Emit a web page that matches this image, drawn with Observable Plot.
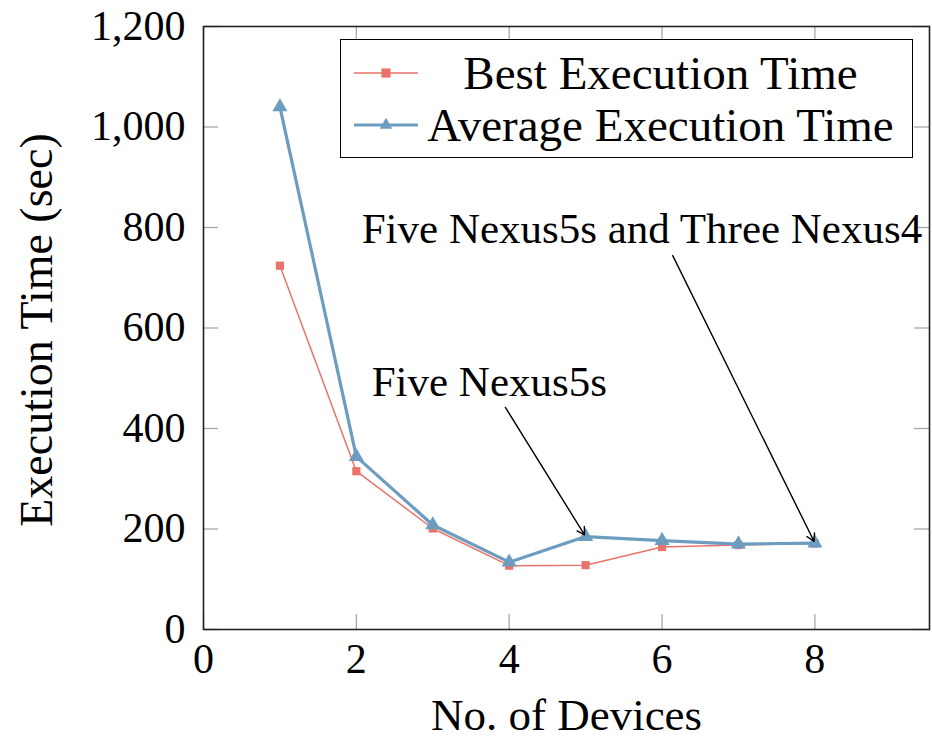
<!DOCTYPE html>
<html><head><meta charset="utf-8">
<script src="https://cdn.jsdelivr.net/npm/d3@7"></script>
<script src="https://cdn.jsdelivr.net/npm/@observablehq/plot@0.6"></script>
<style>
html,body{margin:0;padding:0;background:#fff;overflow:hidden;}
#wrap{position:relative;width:932px;height:740px;overflow:hidden;}
#legend{position:absolute;left:340px;top:39px;width:573px;height:119px;border:1.6px solid #000;box-sizing:border-box;background:#fff;font-family:"Liberation Serif","Times New Roman",serif;font-size:47px;color:#000;}
#legend .row{position:absolute;left:0;right:0;height:50px;}
#legend .sw{position:absolute;left:11px;top:0;}
#legend .lab{position:absolute;left:86px;right:18px;top:0;height:50px;line-height:50px;text-align:center;white-space:nowrap;}
</style></head><body><div id="wrap"></div>
<script>
const devices = [1, 2, 3, 4, 5, 6, 7, 8];
const bestTime = [724, 315, 201, 127, 128, 164, 168, 171];
const avgTime = [1040, 344, 208, 134, 185, 177, 170, 172];
const xTicks = [0, 2, 4, 6, 8];
const yTicks = [0, 200, 400, 600, 800, 1000, 1200];
const seriesNames = ["Best Execution Time", "Average Execution Time"];
const seriesColors = ["#E8736A", "#6C9DC0"];
const annoLabels = ["Five Nexus5s", "Five Nexus5s and Three Nexus4"];
const annoTextX = [2.2, 2.07];
const annoTextY = [493, 796];
const annoFromX = [3.95, 6.14];
const annoFromY = [442, 744];
const annoTargetDevice = [5, 8];

const best = devices.map((d, i) => ({x: d, y: bestTime[i]}));
const avg = devices.map((d, i) => ({x: d, y: avgTime[i]}));
const annos = annoLabels.map((t, i) => {
  const j = devices.indexOf(annoTargetDevice[i]);
  return {text: t, tx: annoTextX[i], ty: annoTextY[i], x1: annoFromX[i], y1: annoFromY[i], x2: devices[j], y2: avgTime[j]};
});

const W = 932, H = 740, mL = 203, mR = 3, mT = 26, mB = 111;
const fw = W - mL - mR, fh = H - mT - mB, tick = 15;
const tickColor = "#a8a8a8";

const chart = Plot.plot({
  width: W, height: H,
  marginLeft: mL, marginRight: mR, marginTop: mT, marginBottom: mB,
  style: {fontFamily: "'Liberation Serif', 'Times New Roman', serif", background: "#fff", color: "#000"},
  x: {domain: [0, 9.5], axis: null},
  y: {domain: [0, 1200], axis: null},
  marks: [
    // inward ticks on four sides
    Plot.tickX(xTicks, {x: d => d, insetTop: fh - tick, stroke: tickColor, strokeWidth: 1.3}),
    Plot.tickX(xTicks, {x: d => d, insetBottom: fh - tick, stroke: tickColor, strokeWidth: 1.3}),
    Plot.tickY(yTicks, {y: d => d, insetRight: fw - tick, stroke: tickColor, strokeWidth: 1.3}),
    Plot.tickY(yTicks, {y: d => d, insetLeft: fw - tick, stroke: tickColor, strokeWidth: 1.3}),
    Plot.axisX({ticks: xTicks, tickSize: 0, tickPadding: 14, fontSize: 42, label: null, tickFormat: d3.format("d")}),
    Plot.axisY({ticks: yTicks, tickSize: 0, tickPadding: 18, fontSize: 42, label: null, tickFormat: d3.format(",")}),
    Plot.text(["Execution Time (sec)"], {frameAnchor: "left", dx: -166, dy: 2, rotate: -90, fontSize: 46, textAnchor: "middle", lineAnchor: "middle"}),
    Plot.text(["No. of Devices"], {frameAnchor: "bottom", dy: 86, fontSize: 45, textAnchor: "middle", lineAnchor: "middle"}),
    // series
    Plot.line(best, {x: "x", y: "y", stroke: seriesColors[0], strokeWidth: 1.5}),
    Plot.dot(best, {x: "x", y: "y", symbol: "square", r: 4.6, fill: seriesColors[0], stroke: "none"}),
    Plot.line(avg, {x: "x", y: "y", stroke: seriesColors[1], strokeWidth: 3.2}),
    Plot.dot(avg, {x: "x", y: "y", symbol: "triangle", r: 5.6, fill: seriesColors[1], stroke: "none"}),
    // annotations
    Plot.arrow(annos, {x1: "x1", y1: "y1", x2: "x2", y2: "y2", stroke: "#000", strokeWidth: 1.4, headLength: 9, insetEnd: 2}),
    Plot.text(annos, {x: "tx", y: "ty", text: "text", fontSize: 43, textAnchor: "start", lineAnchor: "middle"}),
    Plot.frame({stroke: "#222", strokeWidth: 1.6})
  ]
});

const wrap = document.getElementById("wrap");
wrap.appendChild(chart);

// legend
const legend = document.createElement("div");
legend.id = "legend";
const rowTops = [8, 60];
seriesNames.forEach((name, i) => {
  const row = document.createElement("div");
  row.className = "row";
  row.style.top = rowTops[i] + "px";
  const sw = d3.create("svg").attr("class", "sw").attr("width", 70).attr("height", 50);
  sw.append("line").attr("x1", 2).attr("x2", 66).attr("y1", 25).attr("y2", 25)
    .attr("stroke", seriesColors[i]).attr("stroke-width", i === 0 ? 1.5 : 3.2);
  const sym = d3.symbol(i === 0 ? d3.symbolSquare : d3.symbolTriangle, i === 0 ? 84 : 70)();
  sw.append("path").attr("d", sym).attr("transform", "translate(34,25)").attr("fill", seriesColors[i]);
  row.appendChild(sw.node());
  const lab = document.createElement("div");
  lab.className = "lab";
  lab.textContent = name;
  row.appendChild(lab);
  legend.appendChild(row);
});
wrap.appendChild(legend);
</script>
</body></html>
